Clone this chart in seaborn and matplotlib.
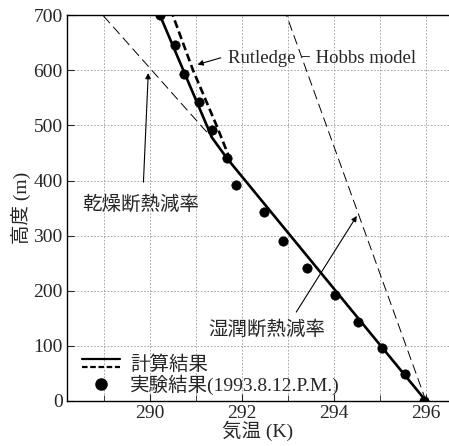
import numpy as np
import pandas as pd
import matplotlib
matplotlib.use("Agg")
import matplotlib.pyplot as plt
import seaborn as sns
from matplotlib.lines import Line2D
from matplotlib.legend_handler import HandlerBase
from matplotlib.ticker import MultipleLocator

# measured points (1993.8.12 P.M.)
obs_temp = [295.96, 295.54, 295.04, 294.53, 294.02, 293.41, 292.90, 292.48,
            291.88, 291.67, 291.36, 291.07, 290.75, 290.54, 290.23]
obs_height = [0, 48, 96, 143, 193, 242, 291, 342, 391, 441, 492, 542, 594, 645, 700]

# calculated profile
calc_temp = [296.0, 291.68, 291.35, 290.22]
calc_height = [0, 440, 478, 700]

# Rutledge-Hobbs model
rh_temp = [291.75, 291.45, 290.94, 290.5]
rh_height = [437, 500, 600, 700]

# dry / moist adiabatic lapse rates
dry_temp = [291.45, 288.98]
dry_height = [468, 700]
moist_temp = [296.0, 292.97]
moist_height = [0, 700]

sns.set_style("ticks")
plt.rcParams["font.family"] = ["Liberation Serif", "Noto Sans CJK JP"]
plt.rcParams["axes.unicode_minus"] = False

fig = plt.figure(figsize=(4.49, 4.46), dpi=100)
ax = fig.add_axes([0.149, 0.101, 0.851, 0.865])

sns.lineplot(x=moist_temp, y=moist_height, sort=False, estimator=None, ax=ax,
             color="black", lw=0.7, linestyle=(0, (10, 5)))
sns.lineplot(x=dry_temp, y=dry_height, sort=False, estimator=None, ax=ax,
             color="black", lw=0.7, linestyle=(0, (10, 5)))
sns.lineplot(x=calc_temp, y=calc_height, sort=False, estimator=None, ax=ax,
             color="black", lw=1.9)
sns.lineplot(x=rh_temp, y=rh_height, sort=False, estimator=None, ax=ax,
             color="black", lw=1.9, linestyle=(0, (3, 1.5)))
sns.scatterplot(x=obs_temp, y=obs_height, ax=ax, color="black", s=45,
                edgecolor="black", zorder=5)

ax.set_xlim(288.2, 296.5)
ax.set_ylim(0, 700)
ax.xaxis.set_major_locator(MultipleLocator(2))
ax.xaxis.set_minor_locator(MultipleLocator(1))
ax.yaxis.set_major_locator(MultipleLocator(100))
ax.grid(True, which="both", color="#999999", lw=0.6, linestyle=(0, (2, 2)))
ax.tick_params(direction="in", which="both", labelsize=14, top=False, right=False,
               pad=3)
ax.tick_params(which="major", length=5)
ax.tick_params(which="minor", length=4)
for s in ["left", "bottom", "top"]:
    ax.spines[s].set_visible(True)
    ax.spines[s].set_linewidth(1.0)
    ax.spines[s].set_color("black")
ax.spines["right"].set_visible(False)

ax.set_xlabel("気温 (K)", fontsize=14, labelpad=-1)
ax.set_ylabel("高度 (m)", fontsize=14, labelpad=2)

arrow = dict(arrowstyle="-|>", color="black", lw=0.8, mutation_scale=8)
ax.annotate("", xy=(290.98, 609), xytext=(291.6, 624), arrowprops=arrow)
ax.text(291.7, 622, "Rutledge − Hobbs model", fontsize=13.5, va="center", ha="left")
ax.annotate("", xy=(289.97, 600), xytext=(289.86, 392), arrowprops=arrow)
ax.text(289.8, 357, "乾燥断熱減率", fontsize=14, va="center", ha="center")
ax.annotate("", xy=(294.53, 340), xytext=(293.15, 157), arrowprops=arrow)
ax.text(292.55, 129, "湿潤断熱減率", fontsize=14, va="center", ha="center")


class StackedLines(HandlerBase):
    def create_artists(self, legend, orig_handle, xdescent, ydescent,
                       width, height, fontsize, trans):
        x = [-xdescent, -xdescent + width]
        y1 = -ydescent + height * 0.8
        y2 = -ydescent + height * 0.2
        a = Line2D(x, [y1, y1], color="black", lw=1.6, transform=trans)
        b = Line2D(x, [y2, y2], color="black", lw=1.6, linestyle=(0, (2.5, 1.2)),
                   transform=trans)
        return [a, b]


h_calc = (Line2D([], [], color="black"), Line2D([], [], color="black", ls="--"))
h_obs = Line2D([], [], color="black", marker="o", ls="none", markersize=8)
ax.legend([h_calc, h_obs], ["計算結果", "実験結果(1993.8.12.P.M.)"],
          handler_map={tuple: StackedLines()}, loc="lower left",
          bbox_to_anchor=(0.018, -0.005), frameon=False, fontsize=14,
          handlelength=2.0, handletextpad=0.5, labelspacing=0.05,
          borderaxespad=0.0, borderpad=0.4)

fig.savefig("out.png", dpi=100)
